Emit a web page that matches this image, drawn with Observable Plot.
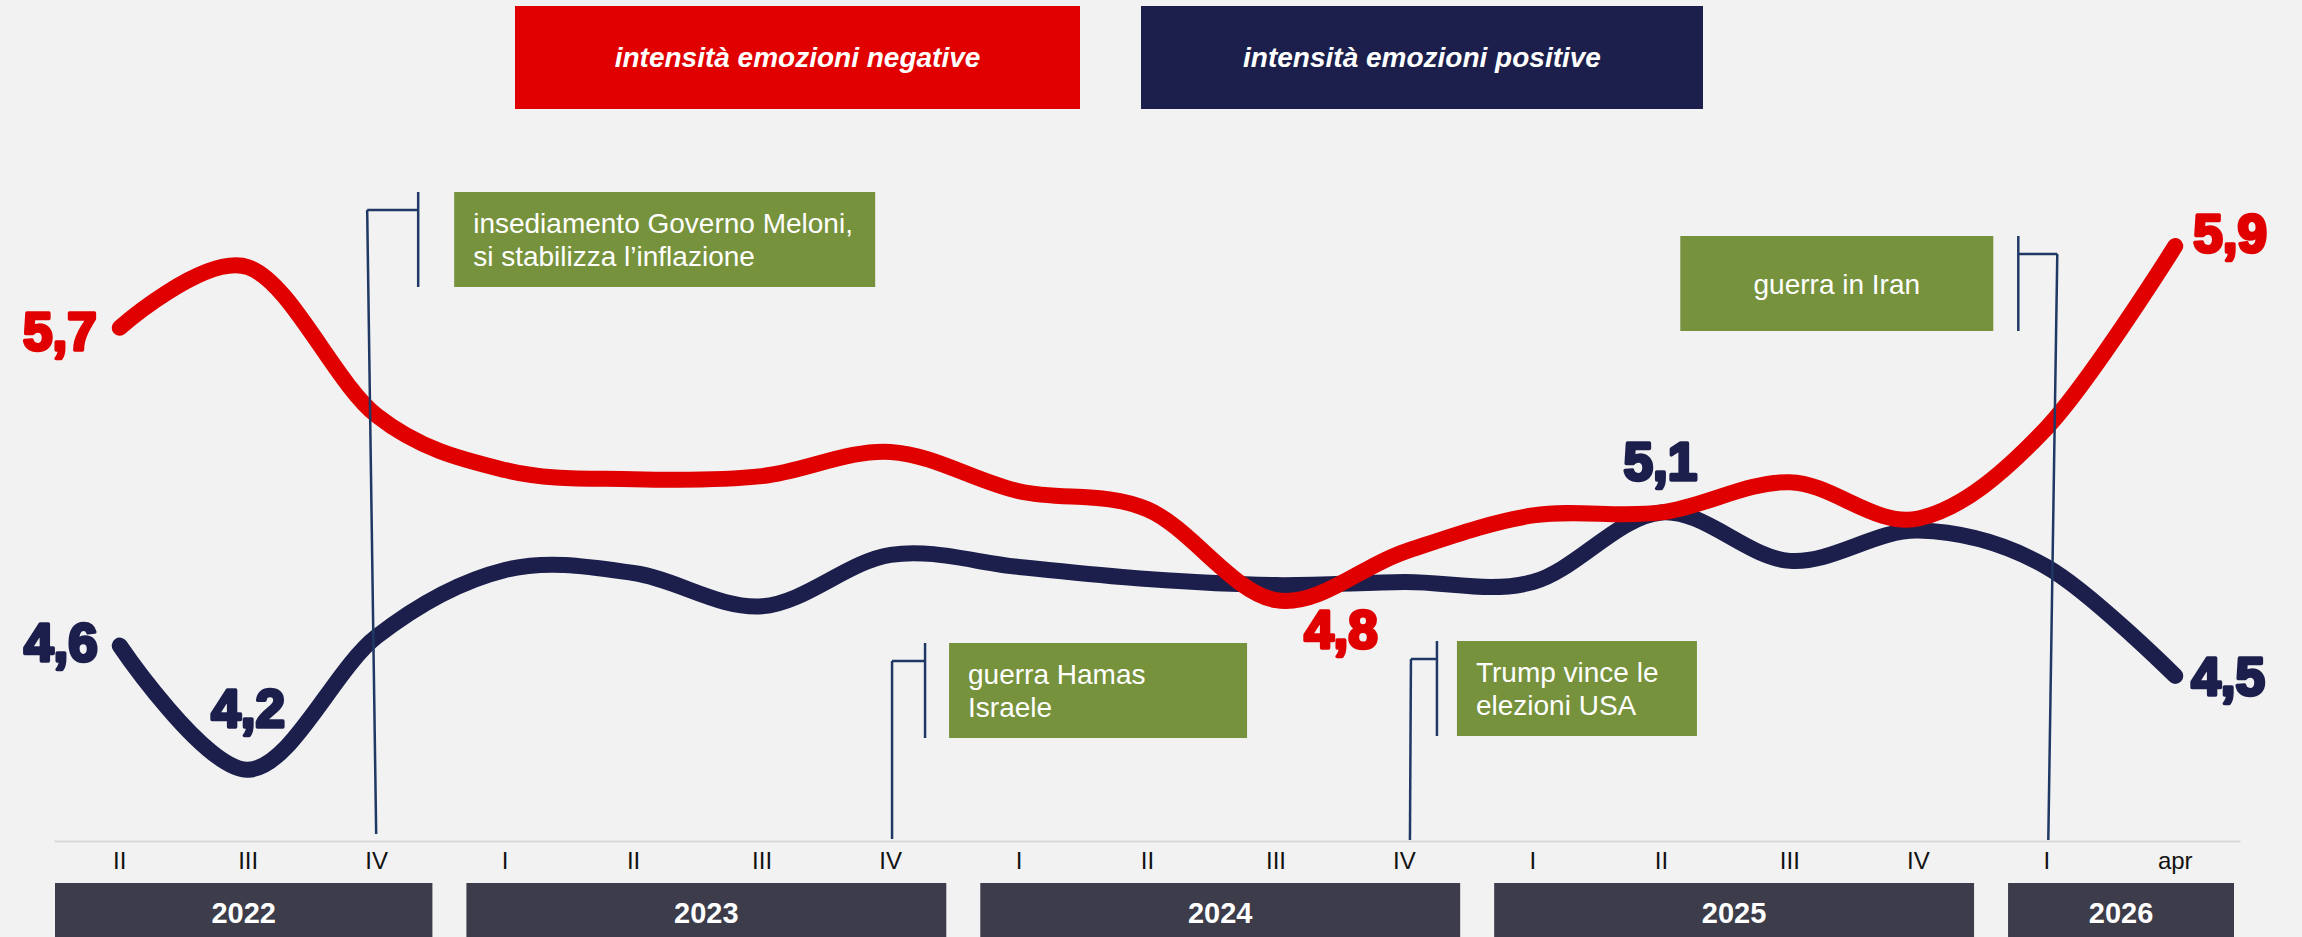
<!DOCTYPE html>
<html>
<head>
<meta charset="utf-8">
<script src="https://cdn.jsdelivr.net/npm/d3@7"></script>
<script src="https://cdn.jsdelivr.net/npm/@observablehq/plot@0.6"></script>
<style>
  html, body { margin: 0; padding: 0; background: #f2f2f2; overflow: hidden; width: 2302px; height: 937px;
    font-family: "Liberation Sans", Arial, sans-serif; }
  #legend { position: relative; width: 2302px; height: 118px; }
  .lg { position: absolute; top: 6px; height: 103px; display: flex; align-items: center; justify-content: center;
    color: #fff; font-weight: bold; font-style: italic; font-size: 28px; }
  #chart svg { display: block; }
</style>
</head>
<body>
<div id="legend"></div>
<div id="chart"></div>
<script>
// ---------------- data ----------------
const quarters = ["II","III","IV","I","II","III","IV","I","II","III","IV","I","II","III","IV","I","apr"];
const quarterYear = [2022,2022,2022,2023,2023,2023,2023,2024,2024,2024,2024,2025,2025,2025,2025,2026,2026];
const negativeSeries = [5.67, 5.87, 5.38, 5.20, 5.17, 5.18, 5.26, 5.13, 5.07, 4.77, 4.93, 5.05, 5.06, 5.16, 5.04, 5.34, 5.94];
const positiveSeries = [4.62, 4.21, 4.65, 4.87, 4.86, 4.75, 4.92, 4.88, 4.84, 4.82, 4.83, 4.83, 5.06, 4.90, 5.00, 4.88, 4.52];
const seriesNames = ["intensità emozioni negative", "intensità emozioni positive"];
const negativeLabelAt = [0, 9, 16];
const positiveLabelAt = [0, 1, 12, 16];
const eventTexts = [
  ["insediamento Governo Meloni,", "si stabilizza l’inflazione"],
  ["guerra Hamas", "Israele"],
  ["Trump vince le", "elezioni USA"],
  ["guerra in Iran"]
];
const eventQuarter = [2, 6, 10, 15];

// ---------------- styles / layout ----------------
const C = { neg: "#e00000", pos: "#1c1f4c", year: "#3c3c4a", event: "#76923c", rule: "#1f3864", axis: "#d9d9d9", tick: "#111" };
const FONT = "'Liberation Sans', Arial, sans-serif";
const labelPlace = {
  neg: { 0: ["end", -23, 5], 9: ["middle", 65, 31], 16: ["start", 18, -11] },
  pos: { 0: ["end", -22, -2], 1: ["middle", 0, -60], 12: ["middle", -1, -49], 16: ["start", 16, 2] }
};
// annotation geometry in px relative to the tick x
const eventLayout = [
  { topDx: -9, botDx: 0, topY: 92, botY: 716, barDx: 42, boxDx: 78, boxW: 421, boxTop: 74, align: "left" },
  { topDx: 2, botDx: 2, topY: 543, botY: 721, barDx: 35, boxDx: 59, boxW: 298, boxTop: 525, align: "left" },
  { topDx: 7, botDx: 6, topY: 541, botY: 722, barDx: 33, boxDx: 53, boxW: 240, boxTop: 523, align: "left" },
  { topDx: 11, botDx: 2, topY: 136, botY: 722, barDx: -28, boxDx: -366, boxW: 313, boxTop: 118, align: "center" }
];
const BOX_H = 95;

// ---------------- legend ----------------
const legend = document.getElementById("legend");
[[seriesNames[0], C.neg, 515, 565], [seriesNames[1], C.pos, 1141, 562]].forEach(([t, c, l, w]) => {
  const d = document.createElement("div");
  d.className = "lg";
  d.style.left = l + "px"; d.style.width = w + "px"; d.style.background = c;
  d.textContent = t;
  legend.appendChild(d);
});

// ---------------- chart ----------------
const rows = [];
positiveSeries.forEach((v, i) => rows.push({ series: "pos", i, v }));
negativeSeries.forEach((v, i) => rows.push({ series: "neg", i, v }));
const fmt = v => d3.format(".1f")(v).replace(".", ",");

const labelMarks = [];
[["neg", negativeSeries, negativeLabelAt], ["pos", positiveSeries, positiveLabelAt]].forEach(([s, arr, at]) => {
  at.forEach(i => {
    const [anchor, dx, dy] = labelPlace[s][i];
    labelMarks.push(Plot.text([{ i, v: arr[i] }], {
      x: "i", y: "v", text: d => fmt(d.v), textAnchor: anchor, dx, dy,
      fill: C[s], stroke: C[s], strokeWidth: 3.5, fontSize: 53, fontWeight: "bold", fontFamily: FONT
    }));
  });
});

const chart = Plot.plot({
  width: 2302,
  height: 819,
  marginLeft: 55,
  marginRight: 63,
  marginTop: 0,
  marginBottom: 96,
  x: { domain: [-0.5, quarters.length - 0.5], axis: null },
  y: { domain: [4, 6], range: [714.8, 109.4], axis: null },
  style: { background: "transparent", overflow: "visible", fontFamily: FONT },
  marks: [
    Plot.frame({ anchor: "bottom", stroke: C.axis, strokeWidth: 2 }),
    Plot.text(quarters.map((q, i) => ({ q, i })), {
      x: "i", text: "q", frameAnchor: "bottom", dy: 27, fontSize: 24, fill: C.tick, fontFamily: FONT
    }),
    Plot.line(rows.filter(d => d.series === "pos"), {
      x: "i", y: "v", stroke: C.pos, strokeWidth: 16, curve: "cardinal", tension: 0, strokeLinecap: "round"
    }),
    Plot.line(rows.filter(d => d.series === "neg"), {
      x: "i", y: "v", stroke: C.neg, strokeWidth: 16, curve: "cardinal", tension: 0, strokeLinecap: "round"
    }),
    ...labelMarks
  ]
});
document.getElementById("chart").appendChild(chart);

// ---------------- year strip & annotations (positioned with the plot's x scale) ----------------
const xs = chart.scale("x");
const X = v => xs.apply(v);
const svg = d3.select(chart);
const n = quarters.length;

const strip = svg.append("g");
d3.rollups(quarterYear.map((y, i) => ({ y, i })), g => [d3.min(g, d => d.i), d3.max(g, d => d.i)], d => d.y)
  .forEach(([year, [a, b]]) => {
    const x1 = a === 0 ? X(-0.5) : X(a - 0.5) + 26;
    const x2 = b === n - 1 ? X(n - 0.5) - 5 : X(b + 0.5) - 8;
    strip.append("rect").attr("x", x1).attr("y", 765).attr("width", x2 - x1).attr("height", 60).attr("fill", C.year);
    strip.append("text").attr("x", (x1 + x2) / 2).attr("y", 805).attr("text-anchor", "middle")
      .attr("fill", "#fff").attr("font-size", 29).attr("font-weight", "bold").attr("font-family", FONT).text(year);
  });

const ann = svg.append("g");
eventQuarter.forEach((q, k) => {
  const L = eventLayout[k];
  const x0 = X(q);
  const topX = x0 + L.topDx, barX = x0 + L.barDx;
  ann.append("line").attr("x1", topX).attr("y1", L.topY).attr("x2", x0 + L.botDx).attr("y2", L.botY)
    .attr("stroke", C.rule).attr("stroke-width", 2.5);
  ann.append("line").attr("x1", topX).attr("y1", L.topY).attr("x2", barX).attr("y2", L.topY)
    .attr("stroke", C.rule).attr("stroke-width", 2.5);
  ann.append("line").attr("x1", barX).attr("y1", L.boxTop).attr("x2", barX).attr("y2", L.boxTop + BOX_H)
    .attr("stroke", C.rule).attr("stroke-width", 2.5);
  const bx = x0 + L.boxDx;
  ann.append("rect").attr("x", bx).attr("y", L.boxTop).attr("width", L.boxW).attr("height", BOX_H).attr("fill", C.event);
  const lines = eventTexts[k];
  lines.forEach((t, j) => {
    const baseline = lines.length === 1 ? L.boxTop + 58 : L.boxTop + 40.7 + j * 33.3;
    ann.append("text")
      .attr("x", L.align === "center" ? bx + L.boxW / 2 : bx + 19)
      .attr("y", baseline)
      .attr("text-anchor", L.align === "center" ? "middle" : "start")
      .attr("fill", "#fff").attr("font-size", 28).attr("font-family", FONT).text(t);
  });
});
</script>
</body>
</html>
